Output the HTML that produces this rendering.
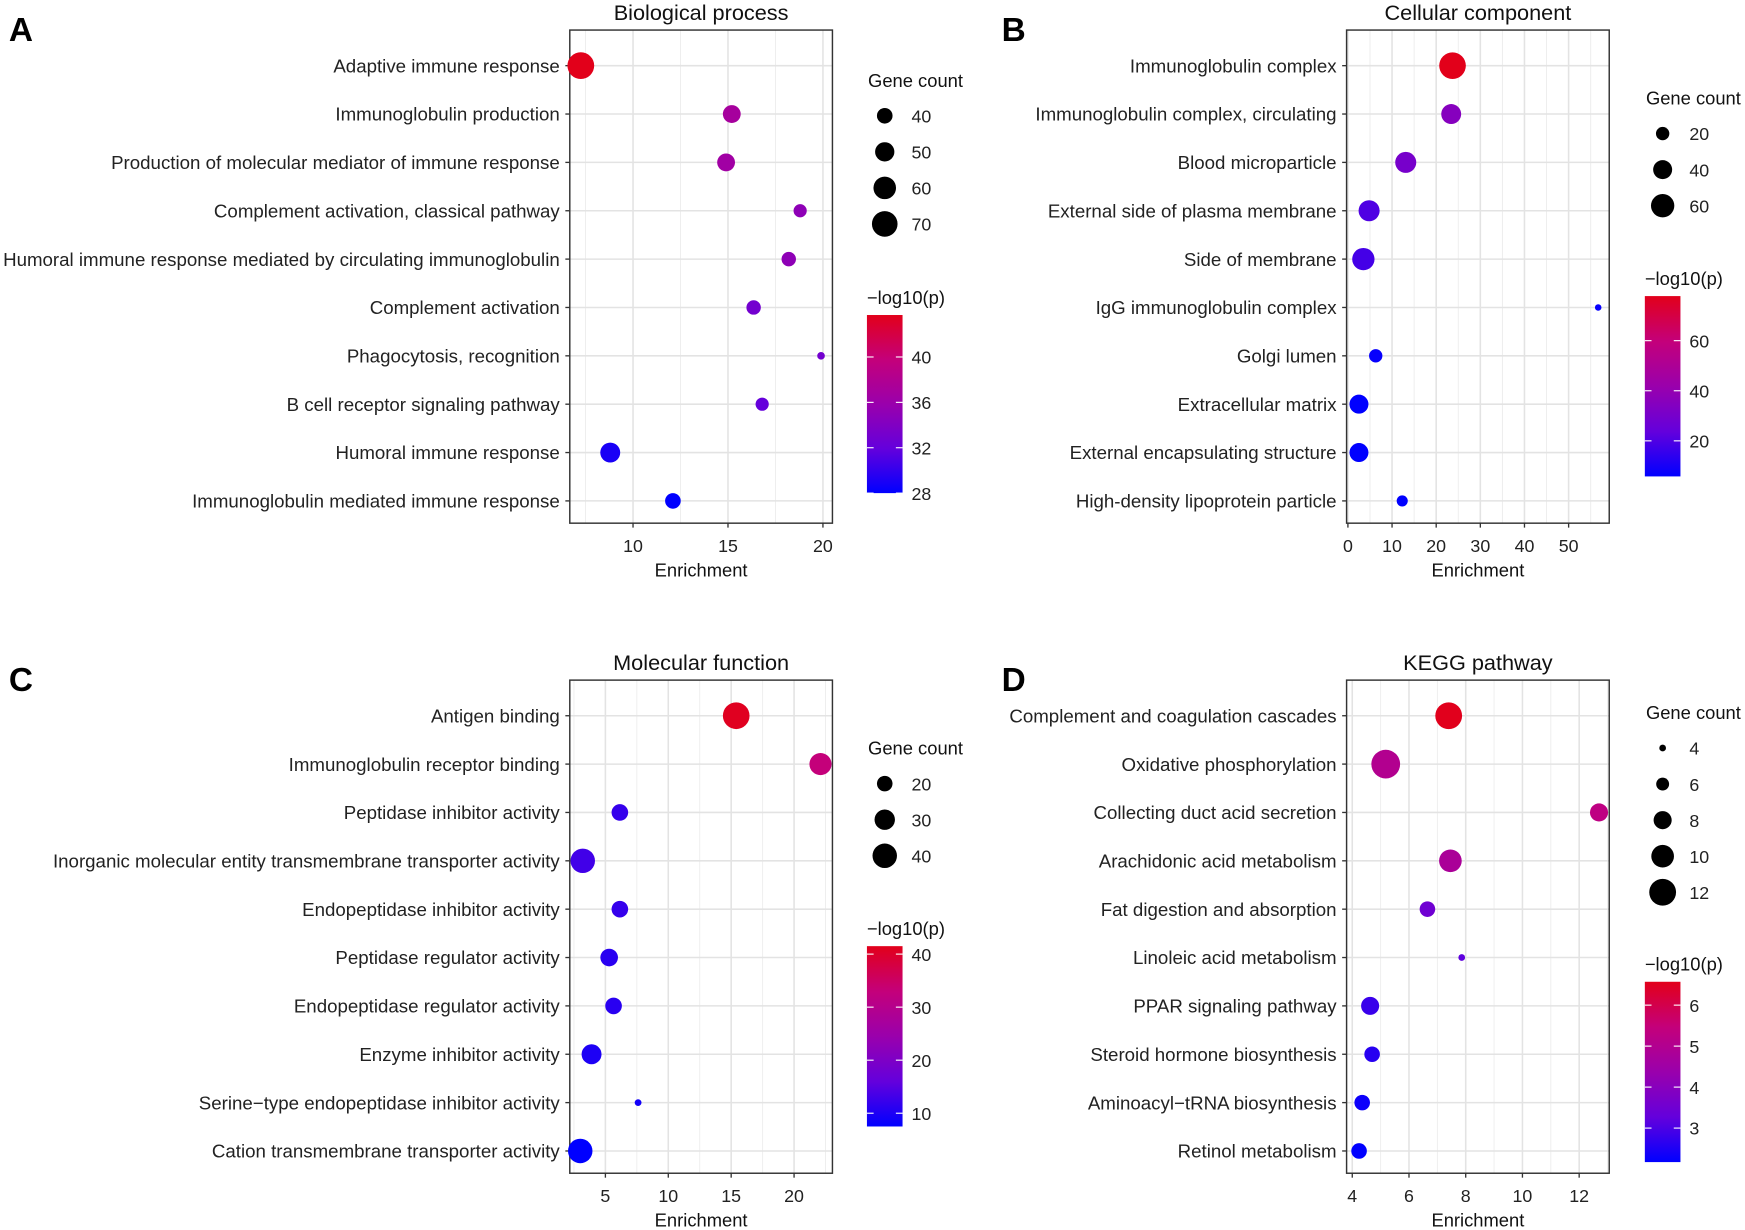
<!DOCTYPE html>
<html><head><meta charset="utf-8"><style>
html,body{margin:0;padding:0;background:#fff;}
svg{display:block;font-family:"Liberation Sans",Arial,sans-serif;}
</style></head><body>
<svg id="fig" width="1745" height="1230" viewBox="0 0 1568 1105" preserveAspectRatio="none">
<defs>
<linearGradient id="cgrad" x1="0" y1="1" x2="0" y2="0">
<stop offset="0" stop-color="#0000FF"/><stop offset="0.25" stop-color="#6400DC"/><stop offset="0.5" stop-color="#9A00AC"/><stop offset="0.75" stop-color="#C4007A"/><stop offset="1" stop-color="#E2001A"/>
</linearGradient>
</defs>
</svg>
<script>
// Panel A: Biological process
const catsA = ["Adaptive immune response","Immunoglobulin production","Production of molecular mediator of immune response","Complement activation, classical pathway","Humoral immune response mediated by circulating immunoglobulin","Complement activation","Phagocytosis, recognition","B cell receptor signaling pathway","Humoral immune response","Immunoglobulin mediated immune response"];
const enrichA = [7.25,15.2,14.9,18.8,18.2,16.35,19.9,16.8,8.8,12.1];
const countA = [74,46,46,34,37,37,22,34,52,40];
const logpA = [44,37,36.5,35,35,33,33,32,29,28];
const ticksA = [10,15,20];
const sizeTicksA = [40,50,60,70];
const colorTicksA = [28,32,36,40];
// Panel B: Cellular component
const catsB = ["Immunoglobulin complex","Immunoglobulin complex, circulating","Blood microparticle","External side of plasma membrane","Side of membrane","IgG immunoglobulin complex","Golgi lumen","Extracellular matrix","External encapsulating structure","High-density lipoprotein particle"];
const enrichB = [23.7,23.4,13.1,4.8,3.5,56.7,6.3,2.5,2.5,12.3];
const countB = [78,44,49,49,55,5,20,40,40,14];
const logpB = [78,35,30,20,18,7,7,5,5,5];
const ticksB = [0,10,20,30,40,50];
const sizeTicksB = [20,40,60];
const colorTicksB = [20,40,60];
// Panel C: Molecular function
const catsC = ["Antigen binding","Immunoglobulin receptor binding","Peptidase inhibitor activity","Inorganic molecular entity transmembrane transporter activity","Endopeptidase inhibitor activity","Peptidase regulator activity","Endopeptidase regulator activity","Enzyme inhibitor activity","Serine\u2212type endopeptidase inhibitor activity","Cation transmembrane transporter activity"];
const enrichC = [15.4,22.1,6.15,3.2,6.15,5.3,5.65,3.9,7.6,3.0];
const countC = [46,34,22,40,22,24,22,29,7,40];
const logpC = [41,33,12,13,12,11,11,10,9,7.5];
const ticksC = [5,10,15,20];
const sizeTicksC = [20,30,40];
const colorTicksC = [10,20,30,40];
// Panel D: KEGG pathway
const catsD = ["Complement and coagulation cascades","Oxidative phosphorylation","Collecting duct acid secretion","Arachidonic acid metabolism","Fat digestion and absorption","Linoleic acid metabolism","PPAR signaling pathway","Steroid hormone biosynthesis","Aminoacyl\u2212tRNA biosynthesis","Retinol metabolism"];
const enrichD = [7.4,5.18,12.7,7.46,6.65,7.86,4.63,4.7,4.35,4.24];
const countD = [12,13,8,10,7,4,8,7,7,7];
const logpD = [6.55,5.0,5.3,4.8,3.5,3.2,2.8,2.6,2.3,2.1];
const ticksD = [4,6,8,10,12];
const sizeTicksD = [4,6,8,10,12];
const colorTicksD = [3,4,5,6];

const NS="http://www.w3.org/2000/svg";
const svg=document.getElementById('fig');
function mk(tag,attrs,parent,text){const e=document.createElementNS(NS,tag);for(const k in attrs)e.setAttribute(k,attrs[k]);if(text!==undefined)e.textContent=text;(parent||svg).appendChild(e);return e;}
const stops=[[0,[0,0,255]],[0.25,[100,0,220]],[0.5,[154,0,172]],[0.75,[196,0,122]],[1,[226,0,26]]];
function colorAt(t){t=Math.max(0,Math.min(1,t));for(let i=1;i<stops.length;i++){if(t<=stops[i][0]){const a=stops[i-1],b=stops[i];const f=(t-a[0])/(b[0]-a[0]);const c=a[1].map((v,j)=>Math.round(v+(b[1][j]-v)*f));return `rgb(${c[0]},${c[1]},${c[2]})`;}}return 'rgb(226,0,26)';}

function panel(cfg){
  const g=mk('g',{});
  
  
  const L=cfg.box[0],R=cfg.box[1],T=cfg.box[2],B=cfg.box[3];
  const xs=v=>L+(v-cfg.xmin)/(cfg.xmax-cfg.xmin)*(R-L);
  const rowStep=(B-T-52)/9;
  const ys=i=>T+32+i*rowStep;
  const rs=c=>Math.max(1.5,cfg.ra*Math.sqrt(c)+cfg.rb);
  const cs=v=>colorAt((v-cfg.cmin)/(cfg.cmax-cfg.cmin));
  const letter=mk('text',{x:cfg.lx,y:T+10,'font-size':30,'font-weight':'bold',fill:'#000'},g,cfg.letter);
  
  
  const title=mk('text',{x:(L+R)/2,y:T-9,'font-size':19.5,'text-anchor':'middle',fill:'#111'},g,cfg.title);
  
  
  mk('rect',{x:L,y:T,width:R-L,height:B-T,fill:'#fff'},g);
  const step=cfg.ticks[1]-cfg.ticks[0];
  for(let v=cfg.ticks[0]-step*1.5;v<=cfg.xmax;v+=step){if(v>cfg.xmin&&v<cfg.xmax)mk('line',{x1:xs(v),x2:xs(v),y1:T,y2:B,stroke:'#ececec','stroke-width':0.8},g);}
  cfg.ticks.forEach(v=>{mk('line',{x1:xs(v),x2:xs(v),y1:T,y2:B,stroke:'#e3e3e3','stroke-width':1.4},g);});
  cfg.cats.forEach((c,i)=>{mk('line',{x1:L,x2:R,y1:ys(i),y2:ys(i),stroke:'#e3e3e3','stroke-width':1.4},g);});
  mk('rect',{x:L,y:T,width:R-L,height:B-T,fill:'none',stroke:'#333','stroke-width':1.3},g);
  cfg.cats.forEach((c,i)=>{
    mk('line',{x1:L-4,x2:L,y1:ys(i),y2:ys(i),stroke:'#333','stroke-width':1.2},g);
    const t=mk('text',{x:L-9,y:ys(i)+6,'font-size':16.8,'text-anchor':'end',fill:'#222'},g,c);
    
    
  });
  cfg.ticks.forEach(v=>{
    mk('line',{x1:xs(v),x2:xs(v),y1:B,y2:B+4,stroke:'#333','stroke-width':1.2},g);
    const t=mk('text',{x:xs(v),y:B+26,'font-size':16,'text-anchor':'middle',fill:'#222'},g,String(v));
    
    
  });
  const xt=mk('text',{x:(L+R)/2,y:B+48,'font-size':16.5,'text-anchor':'middle',fill:'#111'},g,'Enrichment');
  
  
  cfg.cats.forEach((c,i)=>{
    const p=mk('circle',{cx:xs(cfg.enrich[i]),cy:ys(i),r:rs(cfg.count[i]),fill:cs(cfg.logp[i])},g);
    
    
  });
  const sl=mk('text',{x:cfg.legX,y:cfg.sizeY,'font-size':16.5,fill:'#111'},g,'Gene count');
  
  
  cfg.sizeTicks.forEach((s,i)=>{
    const y=cfg.sizeY+26+i*32.4;
    const c=mk('circle',{cx:cfg.legX+15,cy:y,r:rs(s),fill:'#000'},g);
    
    
    const t=mk('text',{x:cfg.legX+39,y:y+6,'font-size':16,fill:'#222'},g,String(s));
    
    
  });
  const cl=mk('text',{x:cfg.legX-1,y:cfg.cbar[0]-10,'font-size':16.5,fill:'#111'},g,'\u2212log10(p)');
  
  
  const cT=cfg.cbar[0],cB=cfg.cbar[1],cx=cfg.legX-1;
  const cb=mk('rect',{x:cx,y:cT,width:32,height:cB-cT,fill:'url(#cgrad)'},g);
  
  
  const cy=v=>cB-(v-cfg.cmin)/(cfg.cmax-cfg.cmin)*(cB-cT);
  cfg.colorTicks.forEach(v=>{
    mk('line',{x1:cx,x2:cx+6,y1:cy(v),y2:cy(v),stroke:'#fff','stroke-width':1},g);
    mk('line',{x1:cx+26,x2:cx+32,y1:cy(v),y2:cy(v),stroke:'#fff','stroke-width':1},g);
    const t=mk('text',{x:cx+40,y:cy(v)+6,'font-size':16,fill:'#222'},g,String(v));
    
    
  });
}
panel({name:'biological-process',letter:'A',lx:8,title:'Biological process',box:[512,748,27,470],xmin:6.67,xmax:20.5,ticks:ticksA,cats:catsA,enrich:enrichA,count:countA,logp:logpA,ra:2.2,rb:-6.9,cmin:28,cmax:43.7,legX:780,sizeY:78,sizeTicks:sizeTicksA,cbar:[283,443],colorTicks:colorTicksA});
panel({name:'cellular-component',letter:'B',lx:900,title:'Cellular component',box:[1210,1446,27,470],xmin:-0.3,xmax:59.2,ticks:ticksB,cats:catsB,enrich:enrichB,count:countB,logp:logpB,ra:1.37,rb:-0.13,cmin:5.8,cmax:77.8,legX:1479,sizeY:94,sizeTicks:sizeTicksB,cbar:[266,428],colorTicks:colorTicksB});
panel({name:'molecular-function',letter:'C',lx:8,title:'Molecular function',box:[512,748,611,1054],xmin:2.17,xmax:23.05,ticks:ticksC,cats:catsC,enrich:enrichC,count:countC,logp:logpC,ra:2.16,rb:-2.67,cmin:7.5,cmax:41.5,legX:780,sizeY:678,sizeTicks:sizeTicksC,cbar:[850,1012],colorTicks:colorTicksC});
panel({name:'kegg-pathway',letter:'D',lx:900,title:'KEGG pathway',box:[1210,1446,611,1054],xmin:3.8,xmax:13.06,ticks:ticksD,cats:catsD,enrich:enrichD,count:countD,logp:logpD,ra:6.16,rb:-9.3,cmin:2.17,cmax:6.57,legX:1479,sizeY:646,sizeTicks:sizeTicksD,cbar:[882,1044],colorTicks:colorTicksD});
</script>
</body></html>
